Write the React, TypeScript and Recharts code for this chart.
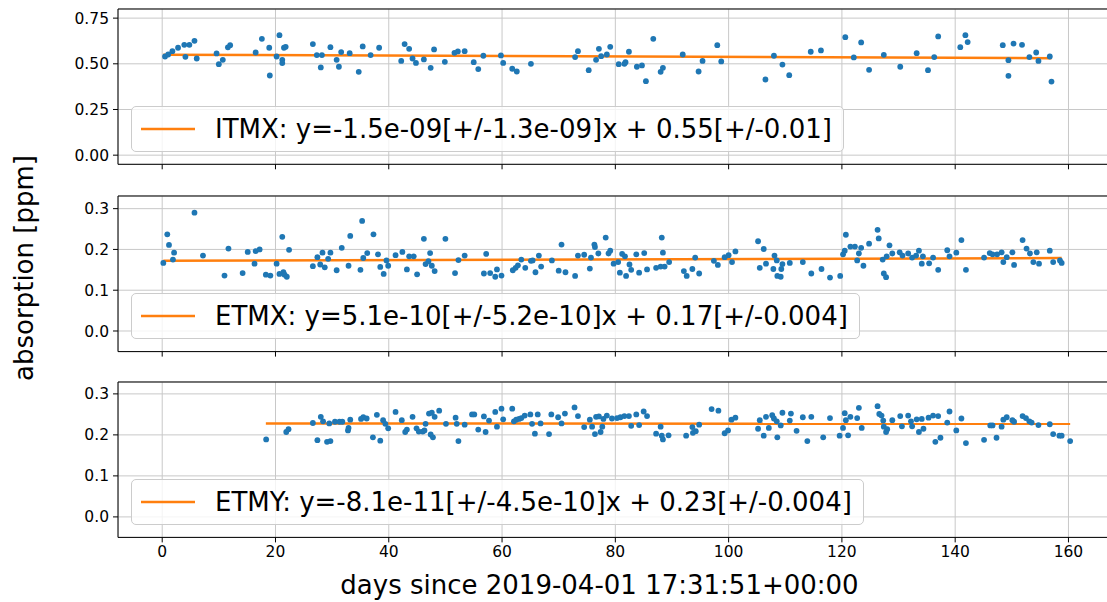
import React from "react";
import {
  CartesianGrid,
  ComposedChart,
  Legend,
  Line,
  ReferenceLine,
  Scatter,
  XAxis,
  YAxis,
} from "recharts";

const FONT = "'DejaVu Sans', sans-serif";
const BLUE = "#1f77b4";
const ORANGE = "#ff7f0e";

const dayTicks = [0, 20, 40, 60, 80, 100, 120, 140, 160];
const dayDomain: [number, number] = [-7.8, 168.3];

// ITMX
const itmxDays = [
  0.5, 1.06, 1.8, 2.8, 3.9, 4.1, 4.8, 5.7, 6.1, 9.6, 10.0, 10.7, 11.6, 12.0, 16.5, 17.6, 18.9, 19.0, 20.2, 20.7,
  21.2, 21.2, 21.5, 21.8, 26.6, 27.3, 28.0, 28.2, 29.7, 30.8, 31.2, 31.6, 33.1, 34.7, 35.4, 36.8, 38.3, 42.2,
  42.8, 43.6, 44.2, 44.8, 46.2, 47.4, 48.0, 49.9, 51.6, 52.2, 53.4, 55.0, 55.8, 56.7, 59.8, 60.2, 61.8, 62.6,
  65.1, 72.9, 73.4, 75.3, 76.6, 77.1, 77.5, 78.5, 79.1, 80.6, 81.6, 81.8, 82.4, 83.8, 84.7, 85.4, 86.7, 88.0,
  88.4, 91.9, 94.7, 95.4, 98.0, 98.7, 106.5, 108.0, 109.5, 110.7, 114.5, 116.3, 120.6, 122.1, 123.4, 124.8,
  127.4, 130.3, 133.2, 135.2, 136.3, 137.0, 140.9, 141.8, 142.2, 148.4, 149.4, 149.4, 150.3, 151.8, 153.1,
  154.3, 154.7, 156.7, 157.0,
];
const itmxAbs = [
  0.54, 0.551, 0.569, 0.588, 0.604, 0.538, 0.604, 0.626, 0.529, 0.557, 0.498, 0.522, 0.59, 0.602, 0.562, 0.637,
  0.588, 0.436, 0.54, 0.657, 0.522, 0.504, 0.588, 0.593, 0.608, 0.548, 0.48, 0.548, 0.591, 0.522, 0.484, 0.564,
  0.558, 0.456, 0.595, 0.548, 0.588, 0.516, 0.608, 0.582, 0.529, 0.505, 0.524, 0.478, 0.579, 0.511, 0.56, 0.568,
  0.569, 0.509, 0.471, 0.544, 0.546, 0.505, 0.473, 0.458, 0.5, 0.537, 0.569, 0.465, 0.522, 0.582, 0.542, 0.551,
  0.593, 0.498, 0.5, 0.509, 0.566, 0.484, 0.491, 0.405, 0.637, 0.456, 0.478, 0.551, 0.458, 0.516, 0.602, 0.513,
  0.414, 0.544, 0.496, 0.438, 0.566, 0.573, 0.646, 0.535, 0.617, 0.467, 0.549, 0.484, 0.558, 0.465, 0.537, 0.65,
  0.591, 0.657, 0.619, 0.602, 0.52, 0.434, 0.611, 0.604, 0.537, 0.562, 0.516, 0.54, 0.403,
];
const itmxFitDays = [0.2, 157.0];
const itmxFitAbs = [0.55, 0.531];

// ETMX
const etmxDays = [
  0.2, 0.9, 1.2, 1.9, 2.1, 5.7, 7.2, 11.0, 11.7, 14.2, 15.1, 16.3, 16.5, 17.2, 18.3, 19.1, 20.2, 20.7, 21.2,
  21.4, 21.6, 22.0, 22.4, 26.6, 27.4, 27.9, 28.3, 28.7, 29.3, 29.7, 30.8, 31.7, 32.9, 33.2, 35.0, 35.3, 35.5,
  36.2, 37.3, 38.1, 38.5, 39.1, 39.6, 39.9, 41.2, 42.4, 43.2, 43.6, 44.4, 45.0, 46.2, 46.5, 47.0, 47.3, 47.6,
  48.1, 50.0, 51.7, 52.3, 53.4, 56.8, 57.2, 57.9, 58.8, 59.1, 59.9, 61.9, 62.4, 62.8, 63.4, 64.1, 65.1, 65.4,
  65.9, 66.5, 66.9, 68.8, 70.0, 70.5, 71.2, 72.9, 73.4, 74.5, 75.5, 75.7, 76.3, 76.4, 77.0, 78.3, 78.8, 79.1,
  79.7, 80.5, 80.8, 81.2, 81.7, 81.9, 82.5, 82.8, 83.7, 84.2, 85.1, 85.6, 87.2, 88.0, 88.2, 88.4, 88.7, 89.5,
  92.1, 92.6, 93.6, 94.1, 94.8, 97.4, 98.1, 99.3, 100.0, 100.6, 101.2, 105.2, 105.5, 106.2, 106.6, 107.9,
  108.1, 108.5, 108.6, 109.2, 109.3, 109.5, 110.8, 113.1, 114.6, 116.4, 117.9, 119.7, 120.2, 120.5, 120.7,
  121.5, 122.3, 122.7, 123.0, 123.4, 123.8, 124.8, 126.3, 126.5, 127.2, 127.4, 127.8, 127.9, 128.4, 128.9,
  130.2, 130.7, 131.7, 132.4, 133.1, 133.6, 134.1, 134.3, 135.4, 136.1, 137.0, 138.6, 139.0, 140.2, 141.1,
  141.9, 145.1, 146.1, 146.6, 147.4, 148.2, 148.5, 149.1, 150.1, 150.4, 151.9, 152.6, 153.2, 153.8, 154.4,
  154.8, 156.7, 157.3, 158.5, 158.8,
];
const etmxAbs = [
  0.167, 0.237, 0.211, 0.175, 0.192, 0.29, 0.185, 0.136, 0.202, 0.142, 0.194, 0.165, 0.196, 0.2, 0.138, 0.136,
  0.165, 0.14, 0.231, 0.144, 0.138, 0.133, 0.199, 0.159, 0.181, 0.163, 0.192, 0.156, 0.177, 0.192, 0.149, 0.204,
  0.16, 0.233, 0.15, 0.27, 0.179, 0.191, 0.237, 0.188, 0.157, 0.14, 0.173, 0.16, 0.186, 0.194, 0.151, 0.183,
  0.183, 0.139, 0.226, 0.164, 0.171, 0.191, 0.16, 0.147, 0.226, 0.142, 0.174, 0.185, 0.141, 0.189, 0.142, 0.133,
  0.151, 0.136, 0.149, 0.155, 0.161, 0.175, 0.155, 0.172, 0.173, 0.144, 0.185, 0.158, 0.173, 0.148, 0.212,
  0.144, 0.135, 0.185, 0.187, 0.153, 0.18, 0.212, 0.206, 0.19, 0.229, 0.19, 0.197, 0.165, 0.169, 0.143, 0.189,
  0.183, 0.135, 0.163, 0.15, 0.188, 0.143, 0.191, 0.151, 0.155, 0.158, 0.229, 0.192, 0.158, 0.169, 0.147, 0.135,
  0.152, 0.18, 0.141, 0.172, 0.162, 0.181, 0.186, 0.169, 0.195, 0.22, 0.155, 0.201, 0.165, 0.152, 0.185, 0.173,
  0.135, 0.133, 0.152, 0.164, 0.167, 0.169, 0.141, 0.152, 0.131, 0.135, 0.188, 0.197, 0.236, 0.207, 0.207,
  0.173, 0.19, 0.204, 0.16, 0.214, 0.248, 0.227, 0.175, 0.141, 0.132, 0.183, 0.21, 0.19, 0.193, 0.185, 0.19,
  0.18, 0.185, 0.197, 0.165, 0.183, 0.166, 0.18, 0.15, 0.198, 0.183, 0.192, 0.223, 0.15, 0.18, 0.191, 0.188,
  0.188, 0.193, 0.169, 0.181, 0.193, 0.162, 0.223, 0.202, 0.19, 0.169, 0.193, 0.165, 0.197, 0.169, 0.173, 0.167,
];
const etmxFitDays = [0.2, 158.8];
const etmxFitAbs = [0.172, 0.179];

// ETMY
const etmyDays = [
  18.35, 21.9, 22.3, 26.6, 27.4, 28.0, 28.4, 29.1, 29.5, 29.7, 30.5, 31.3, 31.8, 32.8, 32.9, 33.2, 35.1, 35.5,
  36.1, 37.2, 37.9, 38.5, 39.0, 39.4, 39.9, 41.2, 42.3, 42.9, 43.2, 44.2, 44.9, 45.3, 46.0, 46.3, 46.5, 47.1,
  47.4, 47.6, 47.8, 48.1, 48.9, 50.1, 51.8, 52.0, 52.3, 53.4, 54.7, 55.1, 55.8, 56.8, 57.1, 57.7, 58.8, 59.1,
  59.9, 60.2, 61.8, 62.1, 62.5, 63.0, 63.4, 64.0, 65.0, 65.3, 65.8, 66.3, 66.8, 68.3, 68.7, 69.9, 70.5, 71.1,
  72.8, 73.4, 74.5, 75.5, 75.9, 76.4, 76.6, 77.1, 77.4, 77.7, 77.9, 78.5, 79.4, 80.3, 80.9, 81.6, 82.4, 82.8,
  83.7, 84.2, 85.0, 85.6, 87.2, 88.0, 88.2, 88.4, 89.4, 92.5, 93.6, 93.7, 94.2, 94.8, 97.0, 98.2, 99.3, 99.9,
  100.5, 101.2, 105.2, 105.5, 106.2, 106.6, 107.1, 107.7, 108.0, 108.5, 108.6, 109.2, 109.5, 110.8, 111.0,
  112.0, 113.1, 113.9, 114.6, 116.7, 117.9, 119.6, 120.2, 120.5, 120.7, 121.1, 121.5, 122.7, 123.0, 123.5,
  126.3, 126.6, 127.0, 127.3, 127.4, 127.8, 128.0, 128.9, 130.3, 130.6, 131.7, 132.2, 132.4, 133.2, 133.6,
  134.1, 134.4, 135.3, 136.1, 136.5, 137.0, 137.4, 138.6, 139.0, 140.2, 141.1, 141.9, 145.1, 146.2, 146.6,
  147.3, 148.2, 148.5, 149.1, 150.1, 150.4, 151.9, 152.5, 153.1, 153.5, 154.7, 156.7, 157.3, 158.4, 158.8,
  160.3,
];
const etmyAbs = [
  0.189, 0.207, 0.214, 0.229, 0.187, 0.244, 0.233, 0.183, 0.228, 0.185, 0.232, 0.232, 0.232, 0.211, 0.217,
  0.237, 0.239, 0.243, 0.24, 0.194, 0.249, 0.186, 0.236, 0.227, 0.216, 0.256, 0.236, 0.207, 0.213, 0.244, 0.216,
  0.208, 0.208, 0.211, 0.227, 0.252, 0.201, 0.254, 0.194, 0.244, 0.259, 0.227, 0.242, 0.227, 0.185, 0.225, 0.25,
  0.25, 0.213, 0.245, 0.207, 0.235, 0.256, 0.22, 0.264, 0.238, 0.264, 0.233, 0.237, 0.239, 0.241, 0.247, 0.25,
  0.227, 0.203, 0.25, 0.228, 0.202, 0.25, 0.243, 0.228, 0.252, 0.267, 0.246, 0.219, 0.237, 0.22, 0.202, 0.244,
  0.245, 0.207, 0.22, 0.239, 0.247, 0.24, 0.241, 0.243, 0.246, 0.246, 0.222, 0.25, 0.224, 0.257, 0.246, 0.203,
  0.22, 0.198, 0.189, 0.199, 0.198, 0.219, 0.205, 0.209, 0.225, 0.263, 0.259, 0.204, 0.211, 0.237, 0.242, 0.215,
  0.236, 0.198, 0.244, 0.217, 0.248, 0.24, 0.233, 0.194, 0.223, 0.254, 0.235, 0.252, 0.21, 0.243, 0.185, 0.244,
  0.194, 0.241, 0.198, 0.217, 0.253, 0.236, 0.199, 0.244, 0.241, 0.266, 0.217, 0.27, 0.251, 0.247, 0.235, 0.22,
  0.207, 0.214, 0.236, 0.246, 0.221, 0.247, 0.233, 0.221, 0.238, 0.207, 0.239, 0.215, 0.242, 0.247, 0.183,
  0.246, 0.193, 0.23, 0.257, 0.211, 0.24, 0.18, 0.188, 0.223, 0.223, 0.193, 0.22, 0.237, 0.243, 0.236, 0.232,
  0.246, 0.241, 0.233, 0.23, 0.224, 0.226, 0.202, 0.198, 0.198, 0.185,
];
const etmyFitDays = [18.3, 160.3];
const etmyFitAbs = [0.228, 0.227];

const wideTicks = [0, 0.25, 0.5, 0.75];
const narrowTicks = [0, 0.1, 0.2, 0.3];

const toPoints = (xs: number[], ys: number[]) => xs.map((x, i) => ({ x, y: ys[i] }));

const Dot = (props: any) => <circle cx={props.cx} cy={props.cy} r={2.9} fill={BLUE} />;

type PanelProps = {
  top: number;
  plotHeight: number;
  days: number[];
  values: number[];
  fitDays: number[];
  fitValues: number[];
  yDomain: [number, number];
  yTicks: number[];
  decimals: number;
  label: string;
  bottom?: boolean;
};

function Panel(p: PanelProps) {
  const axisH = p.bottom ? 602 - (p.top + 9 + p.plotHeight) : 11;
  const height = 9 + p.plotHeight + axisH;
  const tickStyle = { fill: "#000", fontSize: 15.5, fontFamily: FONT };
  return (
    <div style={{ position: "absolute", left: 0, top: p.top, width: 1120, height }}>
      <ComposedChart width={1120} height={height} margin={{ top: 9, right: 4.5, bottom: 0, left: 0 }}>
        <CartesianGrid stroke="#c8c8c8" strokeWidth={1} />
        <XAxis
          type="number"
          dataKey="x"
          domain={dayDomain}
          allowDataOverflow
          ticks={dayTicks}
          interval={0}
          height={axisH}
          tickSize={5}
          tickMargin={4}
          tick={tickStyle}
          tickFormatter={(v) => (p.bottom ? String(v) : "")}
          axisLine={{ stroke: "#000" }}
          tickLine={{ stroke: "#000" }}
        />
        <YAxis
          type="number"
          dataKey="y"
          domain={p.yDomain}
          allowDataOverflow
          ticks={p.yTicks}
          interval={0}
          width={118}
          tickSize={5}
          tickMargin={4}
          tick={tickStyle}
          tickFormatter={(v) => Number(v).toFixed(p.decimals)}
          axisLine={{ stroke: "#000" }}
          tickLine={{ stroke: "#000" }}
        />
        <ReferenceLine y={p.yDomain[1]} stroke="#000" strokeWidth={1} />
        <Scatter data={toPoints(p.days, p.values)} shape={Dot} isAnimationActive={false} />
        <Line
          data={toPoints(p.fitDays, p.fitValues)}
          dataKey="y"
          stroke={ORANGE}
          strokeWidth={2.5}
          dot={false}
          activeDot={false}
          isAnimationActive={false}
        />
        <Legend
          layout="horizontal"
          verticalAlign="middle"
          align="center"
          wrapperStyle={{ left: 131, top: 106, width: "auto" }}
          content={() => (
            <div
              style={{
                display: "inline-flex",
                alignItems: "center",
                height: 44,
                padding: "0 11px 0 9px",
                border: "1px solid #cccccc",
                borderRadius: 5,
                background: "rgba(255,255,255,0.8)",
                fontFamily: FONT,
                fontSize: 26,
                color: "#000",
                whiteSpace: "nowrap",
              }}
            >
              <svg width={54} height={6} style={{ marginRight: 20 }}>
                <line x1={0} y1={3} x2={54} y2={3} stroke={ORANGE} strokeWidth={2.5} />
              </svg>
              {p.label}
            </div>
          )}
        />
      </ComposedChart>
    </div>
  );
}

export default function App() {
  return (
    <div
      style={{
        position: "absolute",
        left: 0,
        top: 0,
        width: 1107,
        height: 602,
        overflow: "hidden",
        background: "#fff",
      }}
    >
      <Panel
        top={0}
        plotHeight={155.3}
        days={itmxDays}
        values={itmxAbs}
        fitDays={itmxFitDays}
        fitValues={itmxFitAbs}
        yDomain={[-0.05, 0.8]}
        yTicks={wideTicks}
        decimals={2}
        label="ITMX: y=-1.5e-09[+/-1.3e-09]x + 0.55[+/-0.01]"
      />
      <Panel
        top={186.7}
        plotHeight={155.6}
        days={etmxDays}
        values={etmxAbs}
        fitDays={etmxFitDays}
        fitValues={etmxFitAbs}
        yDomain={[-0.0505, 0.331]}
        yTicks={narrowTicks}
        decimals={1}
        label="ETMX: y=5.1e-10[+/-5.2e-10]x + 0.17[+/-0.004]"
      />
      <Panel
        top={373.3}
        plotHeight={155.4}
        days={etmyDays}
        values={etmyAbs}
        fitDays={etmyFitDays}
        fitValues={etmyFitAbs}
        yDomain={[-0.05, 0.329]}
        yTicks={narrowTicks}
        decimals={1}
        label="ETMY: y=-8.1e-11[+/-4.5e-10]x + 0.23[+/-0.004]"
        bottom
      />
      <svg
        width={1107}
        height={602}
        style={{ position: "absolute", left: 0, top: 0, pointerEvents: "none" }}
      >
        <text x={599.5} y={594} textAnchor="middle" fontFamily={FONT} fontSize={26} fill="#000">
          days since 2019-04-01 17:31:51+00:00
        </text>
        <text
          transform="translate(33, 268) rotate(-90)"
          textAnchor="middle"
          fontFamily={FONT}
          fontSize={26}
          fill="#000"
        >
          absorption [ppm]
        </text>
      </svg>
    </div>
  );
}
